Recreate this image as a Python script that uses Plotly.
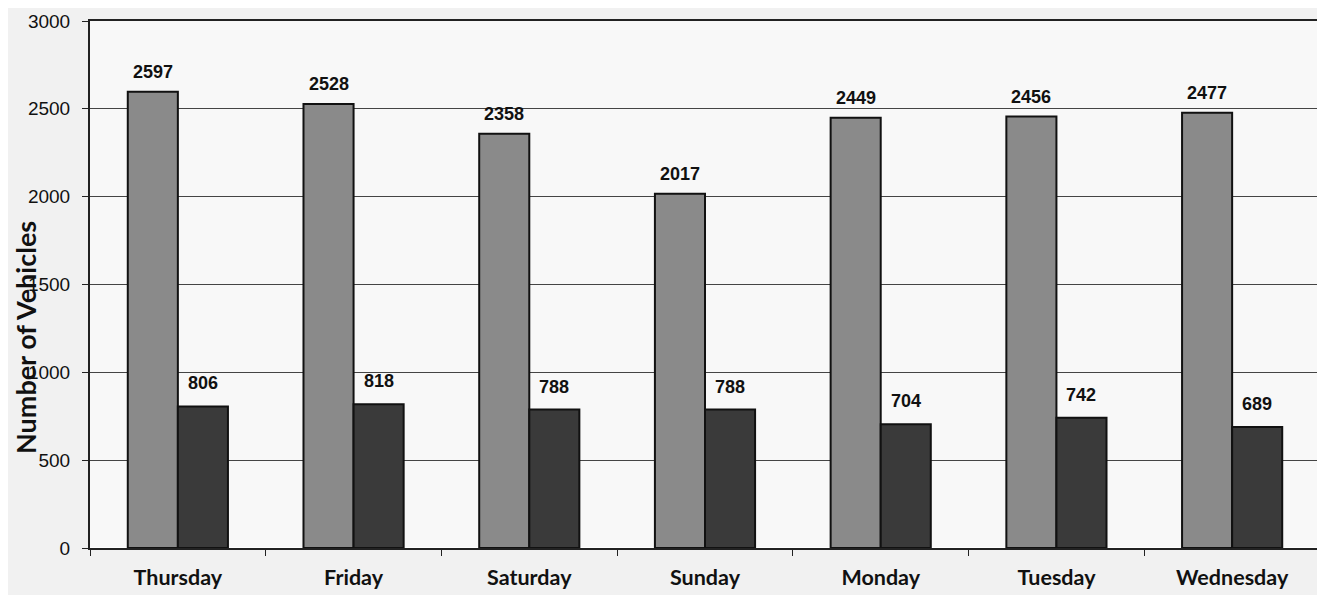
import plotly.graph_objects as go

days = ["Thursday", "Friday", "Saturday", "Sunday", "Monday", "Tuesday", "Wednesday"]
series_a = [2597, 2528, 2358, 2017, 2449, 2456, 2477]
series_b = [806, 818, 788, 788, 704, 742, 689]
y_ticks = [0, 500, 1000, 1500, 2000, 2500, 3000]

fig = go.Figure()
fig.add_trace(go.Bar(x=days, y=series_a, marker=dict(color="#8a8a8a", line=dict(color="#111111", width=2)), showlegend=False))
fig.add_trace(go.Bar(x=days, y=series_b, marker=dict(color="#3a3a3a", line=dict(color="#111111", width=2)), showlegend=False))

for d, a, b in zip(days, series_a, series_b):
    fig.add_annotation(x=d, y=a, text=f"<b>{a}</b>", showarrow=False, xshift=-25, yshift=8,
                       yanchor="bottom", font=dict(family="Liberation Sans, Arial", size=18, color="#111"))
    fig.add_annotation(x=d, y=b, text=f"<b>{b}</b>", showarrow=False, xshift=25, yshift=11,
                       yanchor="bottom", font=dict(family="Liberation Sans, Arial", size=18, color="#111"))

fig.add_annotation(xref="paper", yref="paper", x=-0.053, y=0.40, xanchor="center", yanchor="middle",
                   text="<b>Number of Vehicles</b>", textangle=-90, showarrow=False,
                   font=dict(family="Lato, Open Sans", size=27, color="#111"))

fig.update_layout(
    width=1317, height=590,
    margin=dict(l=82, r=3, t=11, b=50),
    paper_bgcolor="#f1f1f1", plot_bgcolor="#f8f8f8",
    barmode="group", bargap=0.43, bargroupgap=0,
)
fig.update_xaxes(showline=True, linecolor="#222", linewidth=2, mirror=True,
                 ticks="outside", tickson="boundaries", ticklen=6, tickcolor="#222",
                 ticklabelstandoff=9,
                 tickfont=dict(family="Lato, Open Sans", size=21.5, color="#111"),
                 tickprefix="<b>", ticksuffix="</b>")
fig.update_yaxes(range=[0, 3000], tickvals=y_ticks, showline=True, linecolor="#222", linewidth=2,
                 mirror=True, ticks="outside", ticklen=6, tickcolor="#222",
                 showgrid=True, gridcolor="#444", gridwidth=1, ticklabelstandoff=8,
                 tickfont=dict(family="Liberation Sans, Arial", size=19, color="#111"))

fig.write_html("out.html")
